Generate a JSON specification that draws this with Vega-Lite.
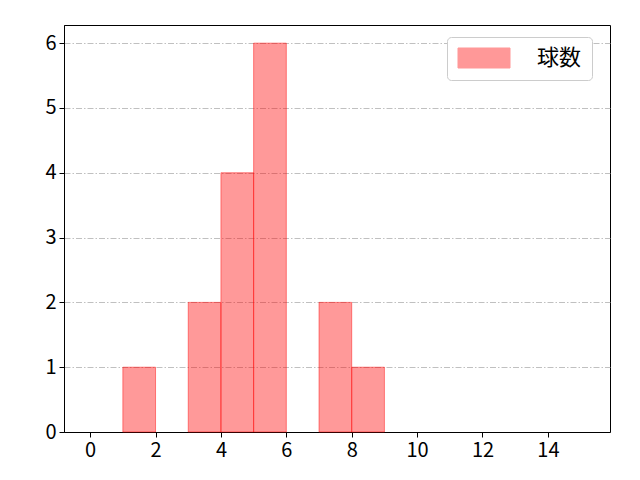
{
  "$schema": "https://vega.github.io/schema/vega-lite/v6.json",
  "width": 546,
  "height": 407,
  "autosize": {"type": "none"},
  "padding": {"left": 64, "top": 25, "right": 30, "bottom": 48},
  "config": {
    "font": "Noto Sans CJK JP",
    "view": {"stroke": "black", "strokeWidth": 1}
  },
  "data": {
    "values": [
      {"bin_start": 1, "bin_end": 2, "count": 1},
      {"bin_start": 3, "bin_end": 4, "count": 2},
      {"bin_start": 4, "bin_end": 5, "count": 4},
      {"bin_start": 5, "bin_end": 6, "count": 6},
      {"bin_start": 7, "bin_end": 8, "count": 2},
      {"bin_start": 8, "bin_end": 9, "count": 1}
    ]
  },
  "mark": {"type": "rect", "fillOpacity": 0.4, "stroke": "#ff0000", "strokeOpacity": 0.45, "strokeWidth": 1},
  "encoding": {
    "x": {
      "field": "bin_start", "type": "quantitative",
      "scale": {"domain": [-0.8, 15.9], "nice": false, "zero": false},
      "axis": {"values": [0, 2, 4, 6, 8, 10, 12, 14], "title": null, "grid": false,
               "domainColor": "black", "tickColor": "black", "tickSize": 5,
               "labelFontSize": 20, "labelColor": "black", "labelPadding": 3}
    },
    "x2": {"field": "bin_end"},
    "y": {
      "field": "count", "type": "quantitative",
      "scale": {"domain": [0, 6.28], "nice": false},
      "axis": {"values": [0, 1, 2, 3, 4, 5, 6], "title": null,
               "grid": true, "gridColor": "#b0b0b0", "gridDash": [6, 2, 1.5, 2], "gridWidth": 0.8,
               "domainColor": "black", "tickColor": "black", "tickSize": 5,
               "labelFontSize": 20, "labelColor": "black", "labelPadding": 3}
    },
    "y2": {"datum": 0},
    "color": {
      "datum": "球数", "type": "nominal",
      "scale": {"range": ["#ff0000"]},
      "legend": {
        "title": null, "orient": "none", "legendX": 383, "legendY": 12,
        "symbolType": "M-1,-1H4.2V1H-1Z", "symbolSize": 400,
        "symbolOpacity": 0.4, "symbolStrokeColor": "#ff0000", "symbolStrokeWidth": 1,
        "labelFontSize": 22, "labelColor": "black", "labelOffset": 58,
        "padding": 10, "strokeColor": "#cccccc", "fillColor": "white", "cornerRadius": 4
      }
    }
  }
}
